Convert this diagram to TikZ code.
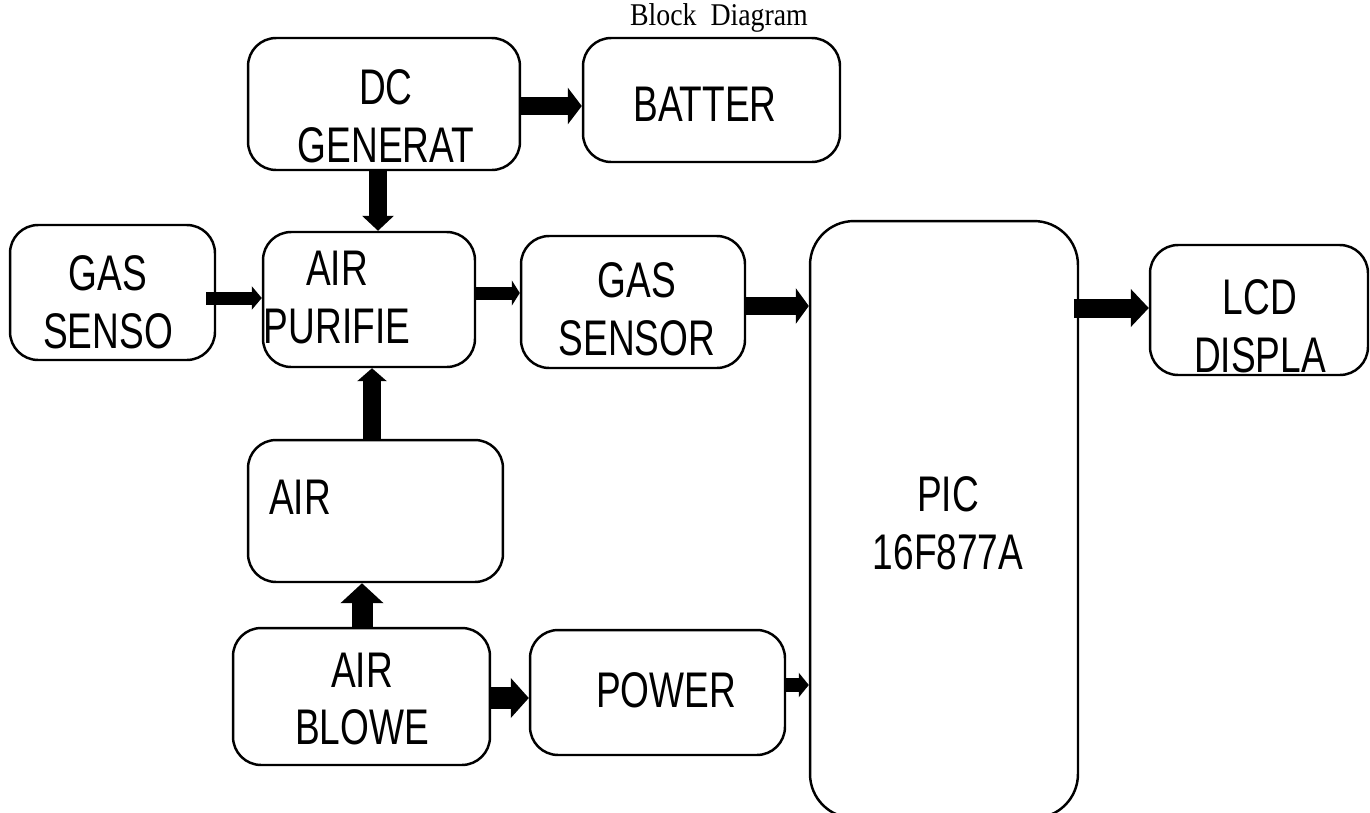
\documentclass[tikz,border=0pt]{standalone}
\usepackage{fontspec}
\setmainfont{Liberation Sans}
\newfontfamily\narrowfont[FakeStretch=0.74]{Liberation Sans}
\newfontfamily\titlefont[FakeStretch=0.88]{Liberation Serif}
\usetikzlibrary{arrows.meta}
\begin{document}
\begin{tikzpicture}[x=0.02cm,y=-0.02cm,
  box/.style={draw, line width=1.4pt, rounded corners=16pt, inner sep=0pt},
  lbl/.style={font=\narrowfont\fontsize{28.5}{33}\selectfont, align=center, inner sep=0pt},
  barrow/.style n args={3}{line width=#1, -{Triangle[width=#2,length=#3]}}
]
\useasboundingbox (0,0) rectangle (1370,812);

% title
\node[font=\titlefont\fontsize{18}{20}\selectfont, inner sep=0pt] (title) at (719,18) {Block\ \ Diagram};

% boxes
\node[box, minimum width=5.44cm, minimum height=2.64cm] (dc)    at (384,104)   {};
\node[box, minimum width=5.14cm, minimum height=2.48cm] (batt)  at (711.5,100) {};
\node[box, minimum width=4.10cm, minimum height=2.70cm] (senso) at (112.5,292.5) {};
\node[box, minimum width=4.24cm, minimum height=2.70cm] (puri)  at (369,299.5) {};
\node[box, minimum width=4.48cm, minimum height=2.64cm] (gsens) at (633,302)   {};
\node[box, rounded corners=25pt, minimum width=5.36cm, minimum height=11.94cm] (pic) at (944,519.5) {};
\node[box, minimum width=4.36cm, minimum height=2.60cm] (lcd)   at (1259,310)  {};
\node[box, minimum width=5.10cm, minimum height=2.84cm] (air)   at (375.5,511) {};
\node[box, minimum width=5.14cm, minimum height=2.74cm] (blowe) at (361.5,696.5) {};
\node[box, minimum width=5.10cm, minimum height=2.50cm] (power) at (657.5,692.5) {};

% labels
\node[lbl] (tdc)    at (386,116)  {DC\\GENERAT};
\node[lbl] (tbatt)  at (705,104)  {BATTER};
\node[lbl] (tsenso) at (108,302)  {GAS\\SENSO};
\node[lbl] (tpuri)  at (337,298)  {AIR\\PURIFIE};
\node[lbl] (tgsens) at (637,309)  {GAS\\SENSOR};
\node[lbl] (tpic)   at (948,523)  {PIC\\16F877A};
\node[lbl] (tlcd)   at (1260,326) {LCD\\DISPLA};
\node[lbl] (tair)   at (300,497)  {AIR};
\node[lbl] (tblowe) at (362,699)  {AIR\\BLOWE};
\node[lbl] (tpower) at (666,690)  {POWER};

% connectors
\draw[barrow={0.36cm}{0.72cm}{0.28cm}] (dc.east |- 0,106) -- (batt.west |- 0,106);
\draw[barrow={0.36cm}{0.62cm}{0.30cm}] (378,0 |- dc.south) -- (378,0 |- puri.north);
\draw[barrow={0.26cm}{0.46cm}{0.20cm}] ([xshift=-0.2cm]senso.east |- 0,298) -- (puri.west |- 0,298);
\draw[barrow={0.26cm}{0.50cm}{0.16cm}] (puri.east |- 0,293) -- (gsens.west |- 0,293);
\draw[barrow={0.36cm}{0.70cm}{0.26cm}] (gsens.east |- 0,306) -- (pic.west |- 0,306);
\draw[barrow={0.38cm}{0.74cm}{0.36cm}] ([xshift=-0.1cm]pic.east |- 0,308) -- (lcd.west |- 0,308);
\draw[barrow={0.36cm}{0.58cm}{0.26cm}] (372,0 |- air.north) -- (372,0 |- puri.south);
\draw[barrow={0.42cm}{0.84cm}{0.40cm}] (362,0 |- blowe.north) -- (362,0 |- air.south);
\draw[barrow={0.44cm}{0.78cm}{0.36cm}] (blowe.east |- 0,698) -- (power.west |- 0,698);
\draw[barrow={0.28cm}{0.48cm}{0.20cm}] (power.east |- 0,685) -- (pic.west |- 0,685);
\end{tikzpicture}
\end{document}
